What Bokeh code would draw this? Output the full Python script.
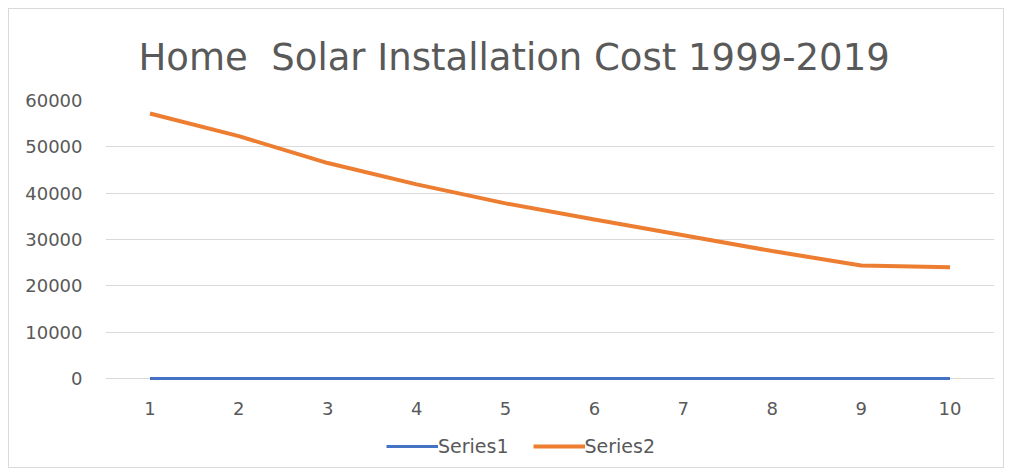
from bokeh.plotting import figure
from bokeh.models import Range1d, FixedTicker, Legend, LegendItem, BasicTickFormatter
from bokeh.embed import file_html
from bokeh.resources import INLINE

# ---- data ----
x_vals = [1, 2, 3, 4, 5, 6, 7, 8, 9, 10]
series1 = [0, 0, 0, 0, 0, 0, 0, 0, 0, 0]
series2 = [57200, 52300, 46500, 41900, 37800, 34300, 30900, 27500, 24400, 24000]
y_ticks = [0, 10000, 20000, 30000, 40000, 50000, 60000]
title_text = "Home\u00a0 Solar Installation Cost 1999-2019"
names = ["Series1", "Series2"]

GRAY_TXT = "#595959"
GRID = "#D9D9D9"

# frame extends below the zero line so that the legend sits inside it
p = figure(frame_width=889, frame_height=367, output_backend="svg", toolbar_location=None,
           x_range=Range1d(0.5, 10.5), y_range=Range1d(-19209, 60000),
           min_border_left=96, min_border_right=9, min_border_top=91, min_border_bottom=0)

p.title.text = title_text
p.title.align = "left"
p.title.offset = 33
p.title.text_font = "DejaVu Sans"
p.title.text_font_size = "37px"
p.title.text_font_style = "normal"
p.title.text_color = GRAY_TXT
p.title.standoff = 44

p.outline_line_color = None
p.background_fill_color = "white"
p.border_fill_color = "white"
p.styles = {"border": "1px solid #D9D9D9", "margin": "8px 0 0 8px"}

p.xgrid.grid_line_color = None
p.ygrid.grid_line_color = GRID
p.ygrid.grid_line_width = 1

p.xaxis.ticker = FixedTicker(ticks=x_vals)
p.xaxis.fixed_location = 0
p.yaxis.ticker = FixedTicker(ticks=y_ticks)
p.yaxis.formatter = BasicTickFormatter(use_scientific=False)
for ax in (p.xaxis[0], p.yaxis[0]):
    ax.major_tick_line_color = None
    ax.minor_tick_line_color = None
    ax.major_tick_out = 0
    ax.major_tick_in = 0
    ax.major_label_text_font = "DejaVu Sans"
    ax.major_label_text_font_size = "18px"
    ax.major_label_text_color = GRAY_TXT
p.yaxis.axis_line_color = None
p.xaxis.axis_line_color = None
p.yaxis.major_label_standoff = 23
p.xaxis.major_label_standoff = 24

r1 = p.line(x_vals, series1, line_color="#4472C4", line_width=3)
r2 = p.line(x_vals, series2, line_color="#ED7D31", line_width=4)

legend = Legend(items=[LegendItem(label=names[0], renderers=[r1]),
                       LegendItem(label=names[1], renderers=[r2])],
                orientation="horizontal", location=(281, 10),
                label_text_font="DejaVu Sans", label_text_font_size="19px",
                label_text_color=GRAY_TXT, glyph_width=52, glyph_height=20,
                label_height=20, label_standoff=0,
                spacing=24, border_line_color=None, background_fill_alpha=0,
                margin=0, padding=0)
p.add_layout(legend, "center")

open("out.html", "w").write(file_html(p, INLINE))
